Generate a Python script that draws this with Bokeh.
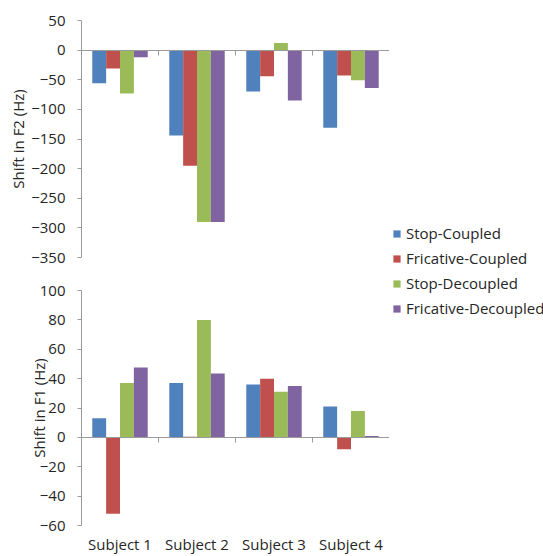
from bokeh.plotting import figure
from bokeh.models import Range1d, LinearAxis, FixedTicker, Legend, LegendItem
from bokeh.layouts import row, column
from bokeh.embed import file_html
from bokeh.resources import INLINE

subjects = ["Subject 1", "Subject 2", "Subject 3", "Subject 4"]
conditions = ["Stop-Coupled", "Fricative-Coupled", "Stop-Decoupled", "Fricative-Decoupled"]
colors = ["#4F81BD", "#C0504D", "#9BBB59", "#8064A2"]

# Shift in F2 (Hz), one list per condition, subjects in order
f2_stop_coupled = [-56, -144, -70, -131]
f2_fric_coupled = [-31, -195, -44, -43]
f2_stop_decoupled = [-73, -290, 12, -51]
f2_fric_decoupled = [-12, -290, -85, -64]

# Shift in F1 (Hz)
f1_stop_coupled = [13, 37, 36, 21]
f1_fric_coupled = [-52, 0.5, 40, -8]
f1_stop_decoupled = [37, 80, 31, 18]
f1_fric_decoupled = [47.5, 43.5, 35, 1]

f2_ticks = [-350, -300, -250, -200, -150, -100, -50, 0, 50]
f1_ticks = [-60, -40, -20, 0, 20, 40, 60, 80, 100]

f2_series = [f2_stop_coupled, f2_fric_coupled, f2_stop_decoupled, f2_fric_decoupled]
f1_series = [f1_stop_coupled, f1_fric_coupled, f1_stop_decoupled, f1_fric_decoupled]

FONT = "Open Sans"
TXT = "#262626"
AXC = "#9a9a9a"
GRC = "#d0d0d0"
FS = "15px"

PLOT_W = 389
LEG_W = 543 - PLOT_W
TOP_H, BOT_H = 273, 283

bar_w = 0.18
offsets = [-1.5 * bar_w, -0.5 * bar_w, 0.5 * bar_w, 1.5 * bar_w]
n = len(subjects)


def bar_x(k):
    return [i + 0.5 + offsets[k] for i in range(n)]


def panel(series, ticks, title, height, top_border, bottom_border, title_standoff):
    p = figure(width=PLOT_W, height=height, output_backend="svg", toolbar_location=None,
               x_axis_type=None, y_axis_type=None,
               x_range=Range1d(0, n), y_range=Range1d(ticks[0], ticks[-1]),
               min_border_left=81, min_border_right=0,
               min_border_top=top_border, min_border_bottom=bottom_border)
    p.outline_line_color = None

    yax = LinearAxis(ticker=FixedTicker(ticks=ticks), axis_line_color=AXC,
                     major_tick_line_color=AXC, major_tick_out=4, major_tick_in=0,
                     minor_tick_line_color=None, major_label_standoff=12,
                     major_label_text_font=FONT, major_label_text_font_size=FS,
                     major_label_text_color=TXT, axis_label=title,
                     axis_label_text_font=FONT, axis_label_text_font_size=FS,
                     axis_label_text_font_style="normal", axis_label_text_color=TXT,
                     axis_label_standoff=title_standoff)
    p.add_layout(yax, "left")
    p.ygrid.ticker = FixedTicker(ticks=ticks)
    p.ygrid.grid_line_color = GRC
    p.xgrid.grid_line_color = None

    # category line along zero, ticks between subjects pointing down
    zax = LinearAxis(ticker=FixedTicker(ticks=list(range(1, n))), fixed_location=0,
                     axis_line_color=AXC, major_tick_line_color=AXC, major_tick_out=0,
                     major_tick_in=5, minor_tick_line_color=None,
                     major_label_overrides={t: "" for t in range(1, n)},
                     major_label_standoff=0, major_label_text_font_size="1px")
    p.add_layout(zax, "above")

    for k, col in enumerate(colors):
        p.vbar(x=bar_x(k), top=series[k], bottom=0, width=bar_w,
               fill_color=col, line_color=None)
    return p


top = panel(f2_series, f2_ticks, "Shift in F2 (Hz)", TOP_H, 20, 16, 0)
bot = panel(f1_series, f1_ticks, "Shift in F1 (Hz)", BOT_H, 17, 29, -12)

# subject names under the lower panel
centers = [i + 0.5 for i in range(n)]
lab_ax = LinearAxis(ticker=FixedTicker(ticks=centers), axis_line_color=None,
                    major_tick_line_color=None, major_tick_out=0, major_tick_in=0,
                    minor_tick_line_color=None,
                    major_label_overrides={c: s for c, s in zip(centers, subjects)},
                    major_label_standoff=8, major_label_text_font=FONT,
                    major_label_text_font_size=FS, major_label_text_color=TXT)
bot.add_layout(lab_ax, "below")

# legend column on the right; its bars lie outside both ranges,
# so only the legend swatches show
leg = figure(width=LEG_W, height=TOP_H + BOT_H, output_backend="svg", toolbar_location=None,
             x_axis_type=None, y_axis_type=None, x_range=Range1d(-20, -19),
             y_range=Range1d(500, 600), min_border=0)
leg.outline_line_color = None
leg.xgrid.grid_line_color = None
leg.ygrid.grid_line_color = None
items = []
for k, (name, col) in enumerate(zip(conditions, colors)):
    r = leg.vbar(x=bar_x(k), top=f2_series[k], bottom=0, width=bar_w,
                 fill_color=col, line_color=None)
    items.append(LegendItem(label=name, renderers=[r]))
legend = Legend(items=items, location=(3, 238), orientation="vertical",
                glyph_width=9, glyph_height=9, label_standoff=5, label_height=20,
                spacing=5, padding=0, margin=0, border_line_color=None,
                background_fill_alpha=0, label_text_font=FONT,
                label_text_font_size=FS, label_text_color=TXT)
leg.add_layout(legend, "center")

layout = row(column(top, bot), leg)
open("out.html", "w").write(file_html(layout, INLINE))
